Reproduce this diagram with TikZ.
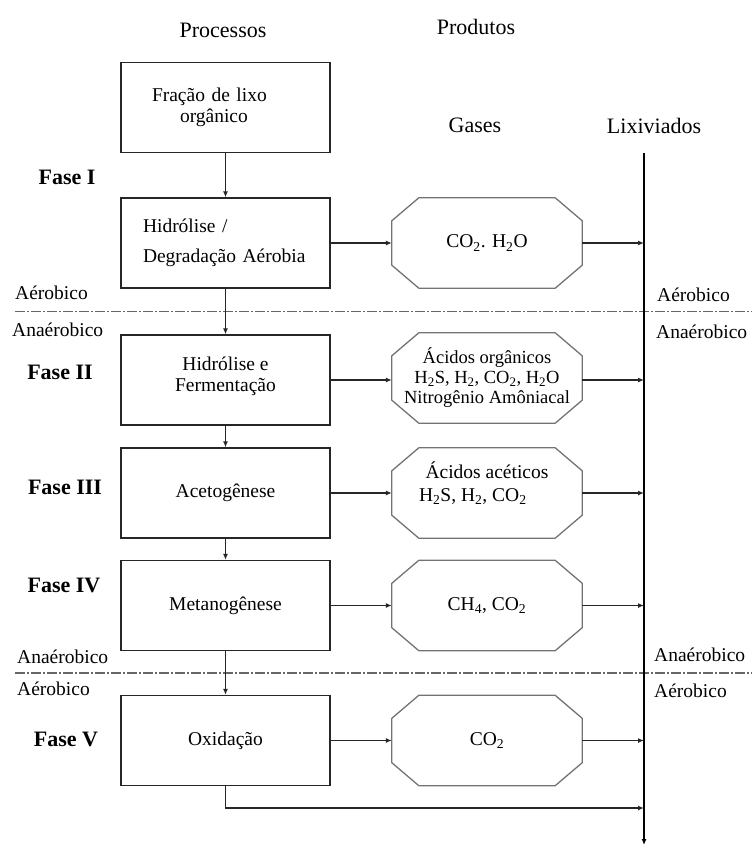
\documentclass[tikz,border=0pt]{standalone}
\usepackage{fontspec}
\setmainfont{Liberation Serif}
\usetikzlibrary{arrows.meta}

\begin{document}
\begin{tikzpicture}[x=1pt, y=-1pt,
		procbox/.style={draw=black!85, line width=1.3pt, minimum width=209pt, minimum height=90pt, inner sep=0pt, align=center, font=\fontsize{19.5}{21}\selectfont},
		gasbox/.style={minimum width=190pt, minimum height=90pt, inner sep=0pt, align=center, font=\fontsize{19.5}{21}\selectfont},
		octline/.style={draw=black!55, line width=1.3pt, line join=round},
		flow/.style={draw=black!85, line width=1.2pt, -{Latex[length=6pt, width=5pt]}},
		head/.style={font=\fontsize{22}{24}\selectfont},
		phase/.style={font=\fontsize{22}{24}\selectfont\bfseries},
		zone/.style={anchor=west, inner sep=0pt, font=\fontsize{19.5}{21}\selectfont},
		divider/.style={draw=black!60, line width=1.2pt, dash pattern=on 10pt off 2pt on 2pt off 2pt}]
					\useasboundingbox (0,0) rectangle (752,850);
					\node[head] (proc) at (223,30) {Processos};
					\node[head] (prod) at (476,27) {Produtos};
					\node[head] (gas) at (475,125) {Gases};
					\node[head] (lix) at (654,126) {Lixiviados};
					\node[phase] (f1) at (67,177) {Fase I};
					\node[phase] (f2) at (60,372) {Fase II};
					\node[phase] (f3) at (65,487) {Fase III};
					\node[phase] (f4) at (64,585) {Fase IV};
					\node[phase] (f5) at (66,739) {Fase V};
					\node[procbox, align=left, text width=147pt, inner xsep=31pt] (frac) at (225.5,107.5) {Fração de lixo\\\hspace*{28pt}orgânico};
					\node[procbox, align=left, text width=165pt, inner xsep=22pt] (hyd) at (225.5,243) {Hidrólise /\\[9pt]Degradação Aérobia};
					\node[procbox] (ferm) at (225.5,380) {Hidrólise e\\Fermentação\\[-10pt]\mbox{}};
					\node[procbox] (acet) at (225.5,493) {Acetogênese};
					\node[procbox] (meta) at (225.5,605.5) {Metanogênese};
					\node[procbox] (oxid) at (225.5,740.5) {Oxidação};
					\node[gasbox] (g2) at (487,243) {CO\textsubscript{2}. H\textsubscript{2}O};
					\node[gasbox, font=\fontsize{18.5}{20}\selectfont] (g3) at (487,378) {Ácidos orgânicos\\H\textsubscript{2}S, H\textsubscript{2}, CO\textsubscript{2}, H\textsubscript{2}O\\Nitrogênio Amôniacal};
					\node[gasbox, font=\fontsize{19.5}{23}\selectfont] (g4) at (487,493) {Ácidos acéticos\\\makebox[136pt][l]{H\textsubscript{2}S, H\textsubscript{2}, CO\textsubscript{2}}\\\mbox{}};
					\node[gasbox] (g5) at (487,605.5) {CH\textsubscript{4}, CO\textsubscript{2}};
					\node[gasbox] (g6) at (487,740.5) {CO\textsubscript{2}};
					\foreach \g in {g2, g3, g4, g5, g6}
						\draw[octline] ([xshift=27pt]\g.north west) -- ([xshift=-27pt]\g.north east) -- ([yshift=-23pt]\g.north east) -- ([yshift=23pt]\g.south east) -- ([xshift=-27pt]\g.south east) -- ([xshift=27pt]\g.south west) -- ([yshift=23pt]\g.south west) -- ([yshift=-23pt]\g.north west) -- cycle;
					\node[zone] (aer1) at (15,293) {Aérobico};
					\node[zone] (ana1) at (12,330) {Anaérobico};
					\node[zone] (ana2) at (17,657) {Anaérobico};
					\node[zone] (aer2) at (17,689) {Aérobico};
					\node[zone] (aer3) at (657,295) {Aérobico};
					\node[zone] (ana3) at (656,332) {Anaérobico};
					\node[zone] (ana4) at (654,655) {Anaérobico};
					\node[zone] (aer4) at (654,691) {Aérobico};
					\coordinate (ltop) at (644,153);
					\coordinate (lbot) at (644,845);
					\coordinate (bend) at (644,808);
					\draw[divider] (15,311.5) -- (752,311.5);
					\draw[divider] (15,673) -- (752,673);
					\draw[black, line width=1.5pt, -{Latex[length=6pt, width=5pt]}] (ltop) -- (lbot);
					\foreach \a/\b in {frac/hyd, hyd/ferm, ferm/acet, acet/meta, meta/oxid}
						\draw[flow] (\a) -- (\b);
					\foreach \p/\g in {hyd/g2, ferm/g3, acet/g4, meta/g5, oxid/g6} {
						\draw[flow] (\p.east) -- (\p.east -| \g.west);
						\draw[flow] (\p.east -| \g.east) -- (\p.east -| ltop);
					}
					\draw[flow] (oxid.south) |- (bend);
				\end{tikzpicture}
\end{document}
